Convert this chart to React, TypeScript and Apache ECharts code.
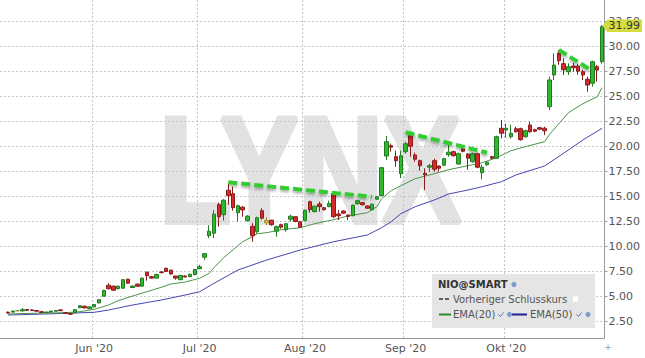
import React, { useEffect, useRef } from 'react';
import * as echarts from 'echarts';

// ---- trading days (categories) ----
const mayDays = [5, 6, 7, 8, 11, 12, 13, 14, 15, 18, 19, 20, 21, 22, 26, 27, 28, 29];
const junDays = [1, 2, 3, 4, 5, 8, 9, 10, 11, 12, 15, 16, 17, 18, 19, 22, 23, 24, 25, 26, 29, 30];
const julDays = [1, 2, 6, 7, 8, 9, 10, 13, 14, 15, 16, 17, 20, 21, 22, 23, 24, 27, 28, 29, 30, 31];
const augDays = [3, 4, 5, 6, 7, 10, 11, 12, 13, 14, 17, 18, 19, 20, 21, 24, 25, 26, 27, 28, 31];
const sepDays = [1, 2, 3, 4, 8, 9, 10, 11, 14, 15, 16, 17, 18, 21, 22, 23, 24, 25, 28, 29, 30];
const octDays = [1, 2, 5, 6, 7, 8, 9, 12, 13, 14, 15, 16, 19, 20, 21, 22, 23, 26, 27, 28, 29];

const monthKeys = ['2020-05', '2020-06', '2020-07', '2020-08', '2020-09', '2020-10'];
const monthLabels = ['Mai \'20', 'Jun \'20', 'Jul \'20', 'Aug \'20', 'Sep \'20', 'Okt \'20'];

// ---- OHLC: [open, close, low, high] ----
const candles: number[][] = [
  [3.45, 3.38, 3.30, 3.50], [3.46, 3.56, 3.42, 3.60], [3.60, 3.60, 3.55, 3.66], [3.58, 3.70, 3.52, 3.87],
  [3.72, 3.64, 3.60, 3.76], [3.68, 3.62, 3.58, 3.72], [3.62, 3.55, 3.50, 3.66], [3.50, 3.42, 3.38, 3.54],
  [3.42, 3.46, 3.38, 3.50], [3.46, 3.56, 3.44, 3.60], [3.55, 3.62, 3.52, 3.66], [3.68, 3.60, 3.56, 3.76],
  [3.40, 3.34, 3.28, 3.44], [3.32, 3.25, 3.18, 3.36], [3.40, 3.70, 3.36, 3.74], [3.90, 4.10, 3.86, 4.16],
  [4.05, 3.88, 3.82, 4.10], [3.80, 3.98, 3.76, 4.02], [3.98, 4.22, 3.94, 4.28], [4.38, 4.70, 4.34, 4.76],
  [5.05, 5.62, 5.00, 5.70], [6.15, 5.80, 5.72, 6.35], [6.05, 5.65, 5.58, 6.12], [5.80, 6.05, 5.74, 6.12],
  [5.85, 6.70, 5.80, 6.76], [6.75, 6.35, 6.28, 6.80], [5.92, 6.06, 5.86, 6.12], [6.25, 6.05, 6.00, 6.34],
  [6.05, 6.85, 6.00, 6.92], [7.45, 7.10, 6.60, 7.50], [7.00, 6.86, 6.80, 7.08], [6.86, 7.22, 6.82, 7.30],
  [7.48, 7.42, 7.30, 7.55], [7.84, 7.52, 7.48, 7.90], [7.65, 7.28, 7.20, 7.70], [7.06, 6.86, 6.70, 7.10],
  [6.70, 7.12, 6.66, 7.18], [7.08, 6.98, 6.92, 7.12], [7.00, 7.25, 6.96, 7.30], [7.20, 7.72, 7.16, 7.78],
  [7.80, 8.00, 7.76, 8.20], [8.95, 9.30, 8.68, 9.38], [11.10, 11.55, 10.85, 12.15], [11.35, 13.25, 10.85, 13.65],
  [14.20, 13.00, 12.00, 14.40], [13.20, 14.65, 12.60, 14.75], [15.65, 15.10, 14.20, 16.30], [15.30, 13.90, 13.60, 16.00],
  [13.40, 14.10, 12.50, 14.20], [13.95, 13.68, 13.00, 14.05], [12.62, 13.05, 12.50, 13.15], [12.05, 11.10, 10.50, 12.35],
  [11.50, 12.90, 11.30, 13.00], [13.60, 12.85, 12.70, 13.84], [12.62, 12.40, 12.17, 12.94], [12.65, 12.20, 12.10, 12.70],
  [11.55, 12.00, 11.00, 12.10], [12.20, 11.95, 11.80, 12.30], [11.70, 12.30, 11.50, 12.36], [12.75, 13.05, 12.50, 13.20],
  [13.00, 12.52, 12.45, 13.05], [12.50, 11.95, 11.90, 12.55], [12.60, 13.65, 12.55, 13.70], [14.50, 13.70, 13.40, 14.60],
  [13.50, 14.05, 13.45, 14.12], [14.27, 14.00, 13.50, 14.50], [13.90, 13.70, 13.62, 13.96], [14.00, 14.33, 13.95, 14.60],
  [15.30, 13.00, 12.85, 15.50], [13.27, 13.10, 12.67, 13.67], [13.57, 13.35, 13.28, 13.62], [13.17, 13.02, 12.67, 13.22],
  [13.10, 14.15, 13.05, 14.22], [14.30, 14.60, 14.20, 14.70], [14.40, 14.20, 14.12, 14.46], [14.07, 13.85, 13.80, 14.12],
  [13.70, 14.25, 13.62, 14.30], [14.75, 15.00, 14.68, 15.06], [15.10, 17.90, 15.05, 17.96], [19.07, 20.50, 18.67, 21.07],
  [20.10, 19.95, 19.50, 20.30], [19.00, 18.60, 18.00, 19.60], [17.30, 19.10, 16.85, 19.60], [19.50, 20.30, 19.30, 20.50],
  [21.10, 20.05, 19.00, 21.40], [19.17, 18.75, 18.50, 19.40], [18.60, 18.10, 17.60, 18.70], [17.34, 17.20, 15.67, 17.84],
  [17.95, 18.10, 17.50, 18.30], [18.60, 17.75, 17.50, 18.80], [18.07, 17.85, 17.50, 18.15], [18.15, 18.80, 18.05, 18.90],
  [19.20, 19.45, 19.00, 20.30], [19.50, 19.10, 19.00, 19.60], [18.27, 19.30, 18.20, 19.40], [19.80, 19.55, 19.45, 19.90],
  [19.27, 18.85, 17.70, 19.35], [18.50, 19.30, 18.40, 19.40], [19.30, 17.95, 17.85, 19.40], [17.40, 17.95, 16.74, 18.20],
  [18.20, 18.45, 18.10, 18.55], [19.00, 18.85, 18.75, 19.10], [18.85, 21.00, 18.80, 21.10], [21.84, 21.35, 20.84, 22.67],
  [21.67, 21.84, 20.90, 22.30], [21.00, 21.34, 20.80, 22.20], [21.80, 21.50, 21.40, 22.00], [21.80, 20.70, 20.60, 21.90],
  [21.00, 21.60, 20.90, 21.70], [22.17, 21.50, 21.40, 22.50], [21.70, 21.55, 21.45, 21.80], [21.90, 21.75, 21.65, 22.00],
  [21.85, 21.60, 21.17, 22.00], [24.00, 26.67, 23.67, 27.00], [27.17, 28.17, 26.67, 29.34], [29.34, 28.60, 28.20, 29.67],
  [28.30, 27.70, 27.17, 28.84], [27.50, 28.00, 27.17, 28.34], [28.07, 27.90, 27.50, 28.40], [28.07, 27.55, 27.20, 28.30],
  [27.50, 27.17, 26.67, 27.70], [26.74, 26.17, 25.50, 27.00], [26.34, 28.50, 26.00, 28.60], [28.00, 27.67, 26.50, 28.17],
  [28.50, 31.99, 28.30, 32.17],
];
const yellowCandles = [2, 54];

// ---- indicators: [candle index, value] ----
const ema20: number[][] = [
  [0, 3.27], [5, 3.34], [12, 3.40], [15, 3.50], [18, 3.74], [21, 4.17], [23, 4.6], [26, 5.07], [29, 5.5],
  [32, 5.94], [34, 6.27], [37, 6.47], [40, 6.84], [42, 7.34], [43, 7.9], [45, 8.9], [47, 9.7], [49, 10.5],
  [51, 11.0], [52, 11.3], [54, 11.4], [57, 11.7], [61, 11.9], [64, 12.3], [68, 12.7], [71, 13.07], [75, 13.4],
  [77, 14.0], [78, 14.8], [80, 15.6], [82, 16.1], [85, 16.8], [89, 17.3], [92, 17.7], [96, 18.1], [99, 18.4],
  [102, 18.9], [105, 19.6], [108, 20.0], [112, 20.5], [113, 21.2], [115, 22.3], [117, 23.4], [120, 24.3],
  [123, 25.0], [124, 25.9],
];
const ema50: number[][] = [
  [0, 3.17], [5, 3.23], [12, 3.34], [18, 3.44], [21, 3.67], [26, 4.17], [32, 4.67], [37, 5.17], [40, 5.5],
  [43, 6.34], [48, 7.67], [54, 8.67], [61, 9.67], [68, 10.5], [75, 11.17], [78, 11.9], [80, 12.5], [82, 13.3],
  [85, 14.0], [89, 14.67], [92, 15.27], [96, 15.67], [99, 16.0], [103, 16.5], [106, 17.17], [112, 18.07],
  [117, 19.67], [120, 20.67], [124, 21.84],
];

// ---- trend lines drawn on the chart: [[index, value], [index, value]] ----
const trendLines: number[][][] = [
  [[46, 16.44], [76, 14.99]],
  [[83, 21.44], [100, 19.40]],
  [[115, 29.67], [122, 27.57]],
];

const yTicks = [2.5, 5, 7.5, 10, 12.5, 15, 17.5, 20, 22.5, 25, 27.5, 30, 32.5];
const yMin = 0.87;
const yMax = 34.67;
const lastClose = 31.99;

const pad = (n: number) => (n < 10 ? '0' + n : '' + n);
const categories: string[] = [];
[mayDays, junDays, julDays, augDays, sepDays, octDays].forEach((days, m) => {
  days.forEach((d) => categories.push(monthKeys[m] + '-' + pad(d)));
});
const monthStart = new Set<number>();
monthKeys.slice(1).forEach((mk) => {
  const idx = categories.findIndex((c) => c.startsWith(mk));
  if (idx >= 0) monthStart.add(idx);
});

const W = 645;
const H = 358;
const GRID_RIGHT = 40.6;
const GRID_LEFT = 5.6;
const GRID_BOTTOM = 20;
const FONT = 'DejaVu Sans';

function buildGraphics(markerY: number | null) {
  const els: any[] = [
    {
      id: 'wm', type: 'text', x: 159.5, y: 170, scaleX: 0.78, z: -1, silent: true,
      style: {
        text: 'LYNX', x: 0, y: 0, fontFamily: 'Liberation Sans', fontWeight: 'bold', fontSize: 150,
        fill: '#e2e2e2', stroke: '#e2e2e2', lineWidth: 6, lineJoin: 'miter',
        align: 'left', verticalAlign: 'middle',
      },
    },
    { id: 'lgbg', type: 'rect', z: 100, shape: { x: 432, y: 274, width: 163, height: 54 }, style: { fill: '#e5e5e5' } },
    { id: 'lg1', type: 'text', z: 101, style: { text: 'NIO@SMART', x: 438, y: 284.5, fontFamily: FONT, fontSize: 10, fontWeight: 'bold', fill: '#333', verticalAlign: 'middle' } },
    { id: 'lg1c', type: 'circle', z: 101, shape: { cx: 514, cy: 284.5, r: 2.6 }, style: { fill: '#7d9acb' } },
    { id: 'lg2l', type: 'line', z: 101, shape: { x1: 439, y1: 299, x2: 451, y2: 299 }, style: { stroke: '#333', lineWidth: 1.5, lineDash: [4, 2] } },
    { id: 'lg2', type: 'text', z: 101, style: { text: 'Vorheriger Schlusskurs', x: 453, y: 299, fontFamily: FONT, fontSize: 10, fill: '#555', verticalAlign: 'middle' } },
    { id: 'lg2s', type: 'rect', z: 101, shape: { x: 573, y: 296.5, width: 5, height: 5 }, style: { fill: '#fff' } },
    { id: 'lg3l', type: 'line', z: 101, shape: { x1: 439, y1: 314.5, x2: 451, y2: 314.5 }, style: { stroke: '#2d8a2d', lineWidth: 2 } },
    { id: 'lg3', type: 'text', z: 101, style: { text: 'EMA(20)', x: 453, y: 314.5, fontFamily: FONT, fontSize: 10, fill: '#555', verticalAlign: 'middle' } },
    { id: 'lg3k', type: 'polyline', z: 101, shape: { points: [[498.5, 314.5], [500.5, 316.5], [503.5, 312.5]] }, style: { stroke: '#5577bb', lineWidth: 1, fill: null } },
    { id: 'lg3c', type: 'circle', z: 101, shape: { cx: 509.5, cy: 314.5, r: 2.5 }, style: { fill: '#7d9acb' } },
    { id: 'lg4l', type: 'line', z: 101, shape: { x1: 512, y1: 314.5, x2: 527, y2: 314.5 }, style: { stroke: '#1f1f8f', lineWidth: 2 } },
    { id: 'lg4', type: 'text', z: 101, style: { text: 'EMA(50)', x: 530, y: 314.5, fontFamily: FONT, fontSize: 10, fill: '#555', verticalAlign: 'middle' } },
    { id: 'lg4k', type: 'polyline', z: 101, shape: { points: [[576.5, 314.5], [578.5, 316.5], [581.5, 312.5]] }, style: { stroke: '#5577bb', lineWidth: 1, fill: null } },
    { id: 'lg4c', type: 'circle', z: 101, shape: { cx: 588, cy: 314.5, r: 2.5 }, style: { fill: '#7d9acb' } },
    { id: 'plus', type: 'text', z: 101, style: { text: '+', x: 608, y: 347, fontFamily: FONT, fontSize: 9, fill: '#999', align: 'center', verticalAlign: 'middle' } },
  ];
  if (markerY !== null) {
    const ax = W - GRID_RIGHT;
    const c = markerY - 1;
    els.push({
      id: 'mkbox', type: 'polygon', z: 110,
      shape: { points: [[ax - 2, c], [ax + 3, c - 6.3], [W - 3, c - 6.3], [W - 3, c + 6.3], [ax + 3, c + 6.3]] },
      style: { fill: '#d5dc3f' },
    });
    els.push({
      id: 'mktxt', type: 'text', z: 111,
      style: { text: lastClose.toFixed(2), x: ax + 4, y: c, fontFamily: FONT, fontSize: 11, fill: '#333', verticalAlign: 'middle' },
    });
  }
  return els;
}

export default function App() {
  const ref = useRef<HTMLDivElement>(null);
  useEffect(() => {
    if (!ref.current) return;
    const chart = echarts.init(ref.current, undefined, { renderer: 'svg', width: W, height: H });
    const candleData = candles.map((c, i) =>
      yellowCandles.includes(i)
        ? { value: c, itemStyle: { color: '#efd35a', color0: '#efd35a', borderColor: '#9a8530', borderColor0: '#9a8530' } }
        : c
    );
    const option: any = {
      animation: false,
      backgroundColor: '#ffffff',
      textStyle: { fontFamily: FONT },
      grid: [
        { left: GRID_LEFT, right: GRID_RIGHT, top: 0, bottom: GRID_BOTTOM },
        { left: 0, right: GRID_RIGHT, top: 0, bottom: GRID_BOTTOM },
      ],
      xAxis: [
        {
          type: 'category', gridIndex: 0, data: categories, boundaryGap: true,
          axisLine: { show: false }, axisTick: { show: false },
          axisLabel: {
            interval: (i: number) => monthStart.has(i),
            formatter: (v: string) => monthLabels[monthKeys.indexOf(v.slice(0, 7))],
            color: '#555', fontSize: 11, margin: 5, fontFamily: FONT,
          },
          splitLine: { show: true, interval: (i: number) => monthStart.has(i), lineStyle: { color: '#c6c6c6', type: [2, 2], width: 1 } },
        },
        {
          type: 'value', gridIndex: 1, min: 0, max: 1,
          axisLine: { show: true, onZero: false, lineStyle: { color: '#9a9a9a' } },
          axisTick: { show: false }, axisLabel: { show: false }, splitLine: { show: false },
        },
      ],
      yAxis: [
        {
          type: 'value', gridIndex: 0, position: 'right', min: yMin, max: yMax,
          axisLine: { show: true, lineStyle: { color: '#9a9a9a' } },
          axisTick: { show: true, length: 3, customValues: yTicks, lineStyle: { color: '#9a9a9a' } },
          axisLabel: { customValues: yTicks, formatter: (v: number) => v.toFixed(2), color: '#555', fontSize: 11, margin: 4, fontFamily: FONT },
          splitLine: { show: false },
        },
        {
          type: 'value', gridIndex: 1, position: 'right', min: yMin, max: yMax,
          axisLine: { show: false }, axisTick: { show: false, customValues: yTicks },
          axisLabel: { show: false, customValues: yTicks },
          splitLine: { show: true, lineStyle: { color: '#c6c6c6', type: [2, 2], width: 1 } },
        },
      ],
      series: [
        {
          type: 'line', name: 'EMA(50)', xAxisIndex: 0, yAxisIndex: 0, data: ema50, z: 1,
          showSymbol: false, symbol: 'none', lineStyle: { color: '#4646b4', width: 1 }, silent: true,
        },
        {
          type: 'line', name: 'EMA(20)', xAxisIndex: 0, yAxisIndex: 0, data: ema20, z: 1,
          showSymbol: false, symbol: 'none', lineStyle: { color: '#4a944a', width: 1 }, silent: true,
        },
        {
          type: 'candlestick', name: 'NIO@SMART', xAxisIndex: 0, yAxisIndex: 0, data: candleData, barWidth: 4,
          itemStyle: { color: '#2eb82e', color0: '#d42a2a', borderColor: '#237a23', borderColor0: '#8a1c1c', borderWidth: 1 },
          markLine: {
            silent: true, symbol: ['none', 'none'], label: { show: false },
            lineStyle: { color: '#33cc33', width: 4, type: [9, 4], shadowBlur: 3, shadowColor: 'rgba(0,0,0,0.35)', shadowOffsetY: 2 },
            emphasis: { disabled: true },
            data: trendLines.map((seg) => [{ coord: seg[0] }, { coord: seg[1] }]),
          },
        },
      ],
      graphic: { elements: buildGraphics(null) },
    };
    chart.setOption(option);
    const py = chart.convertToPixel({ yAxisIndex: 0 } as any, lastClose) as unknown as number;
    chart.setOption({ graphic: { elements: buildGraphics(typeof py === 'number' ? py : 26.8) } });
    return () => chart.dispose();
  }, []);
  return (
    <div style={{ position: 'absolute', left: 0, top: 0, width: W, height: H, background: '#fff' }}>
      <div ref={ref} style={{ width: W, height: H }} />
    </div>
  );
}
